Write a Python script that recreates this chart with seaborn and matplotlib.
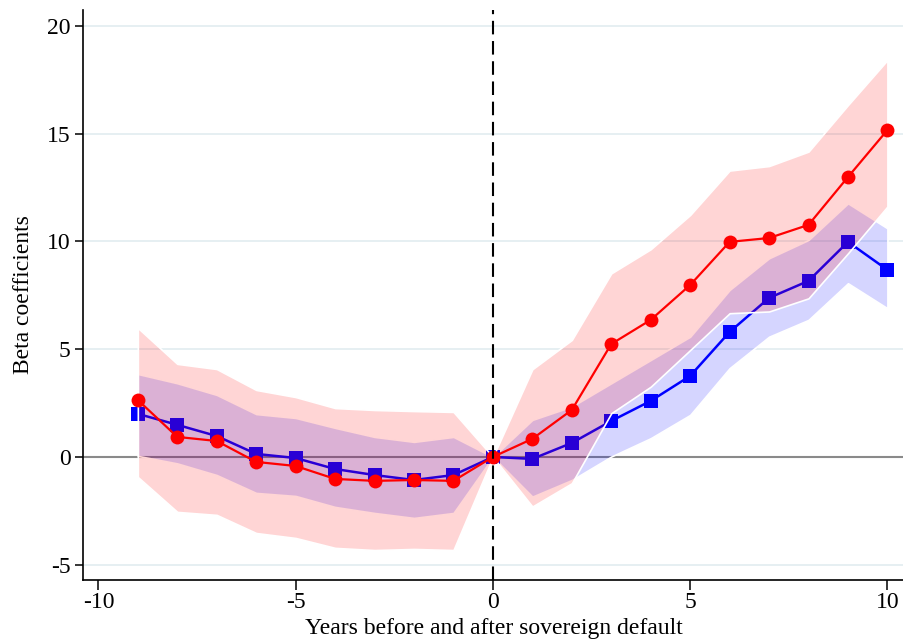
import numpy as np
import pandas as pd
import matplotlib
matplotlib.use("Agg")
import matplotlib.pyplot as plt
import seaborn as sns

# ---- data ----
years = list(range(-9, 11))
red_beta = [2.64, 0.93, 0.74, -0.23, -0.42, -1.02, -1.11, -1.07, -1.11, 0.0,
            0.84, 2.18, 5.24, 6.36, 7.98, 9.98, 10.16, 10.77, 12.99, 15.17]
red_upper = [5.99, 4.32, 4.08, 3.11, 2.78, 2.27, 2.18, 2.13, 2.09, 0.0,
             4.07, 5.43, 8.52, 9.64, 11.23, 13.29, 13.50, 14.17, 16.33, 18.42]
red_lower = [-0.93, -2.55, -2.69, -3.53, -3.76, -4.22, -4.32, -4.27, -4.32, 0.0,
             -2.30, -1.22, 2.03, 3.26, 4.96, 6.67, 6.75, 7.36, 9.45, 11.62]
blue_beta = [2.00, 1.49, 0.97, 0.14, -0.05, -0.56, -0.84, -1.07, -0.84, 0.0,
             -0.09, 0.65, 1.67, 2.60, 3.76, 5.80, 7.38, 8.17, 9.98, 8.68]
blue_upper = [3.85, 3.42, 2.88, 1.99, 1.81, 1.35, 0.93, 0.70, 0.93, 0.0,
              1.72, 2.34, 3.42, 4.50, 5.58, 7.75, 9.22, 10.07, 11.77, 10.61]
blue_lower = [0.05, -0.30, -0.84, -1.67, -1.81, -2.32, -2.60, -2.83, -2.60, 0.0,
              -1.84, -1.07, 0.02, 0.87, 1.95, 4.12, 5.58, 6.36, 8.06, 6.90]
yticks = [-5, 0, 5, 10, 15, 20]
xticks = [-10, -5, 0, 5, 10]

df = pd.DataFrame({"year": years, "red": red_beta, "blue": blue_beta})

sns.set_theme(style="white")
plt.rcParams["font.family"] = ["Liberation Serif", "DejaVu Serif"]
plt.rcParams["text.color"] = "black"
plt.rcParams["axes.labelcolor"] = "black"

fig = plt.figure(figsize=(9.04, 6.42), dpi=100)
ax = fig.add_axes([83 / 904, 62 / 642, 821 / 904, 570 / 642])

# grid lines
for yt in yticks:
    if yt != 0:
        ax.axhline(yt, color="#e4eef1", lw=1.3, zorder=0)
ax.axhline(0, color="#8a8a8a", lw=1.5, zorder=0.5)

# blue band + line
ax.fill_between(years, blue_lower, blue_upper, color=(0.0, 0.0, 1.0, 0.165),
                edgecolor="white", linewidth=1.2, zorder=1)
sns.lineplot(data=df, x="year", y="blue", ax=ax, color="#0000ff", lw=1.8,
             marker="s", markersize=9.5, markeredgewidth=0, zorder=2)

# red band + line
ax.fill_between(years, red_lower, red_upper, color=(1.0, 0.0, 0.0, 0.165),
                edgecolor="white", linewidth=1.2, zorder=3)
sns.lineplot(data=df, x="year", y="red", ax=ax, color="#ff0000", lw=1.6,
             marker="o", markersize=10, markeredgewidth=0, zorder=4)

ax.axvline(0, color="black", lw=1.5, dashes=(6.5, 3.2), zorder=5)

ax.set_xlim(-10.39, 10.42)
ax.set_ylim(-5.71, 20.74)
ax.set_xticks(xticks)
ax.set_yticks(yticks)
ax.set_xticklabels([str(v) for v in xticks])
ax.set_yticklabels([str(v) for v in yticks])

for s in ["top", "right"]:
    ax.spines[s].set_visible(False)
for s in ["left", "bottom"]:
    ax.spines[s].set_color("black")
    ax.spines[s].set_linewidth(1.2)

ax.tick_params(axis="x", direction="out", length=7, width=1.1, colors="black",
               labelsize=17, pad=2, bottom=True)
ax.tick_params(axis="y", direction="out", length=6, width=1.1, colors="black",
               labelsize=17, pad=3, left=True)

ax.set_xlabel("Years before and after sovereign default", fontsize=17, labelpad=3)
ax.set_ylabel("Beta coefficients", fontsize=17, labelpad=9)
ax.grid(False)

fig.savefig("out.png", dpi=100)
